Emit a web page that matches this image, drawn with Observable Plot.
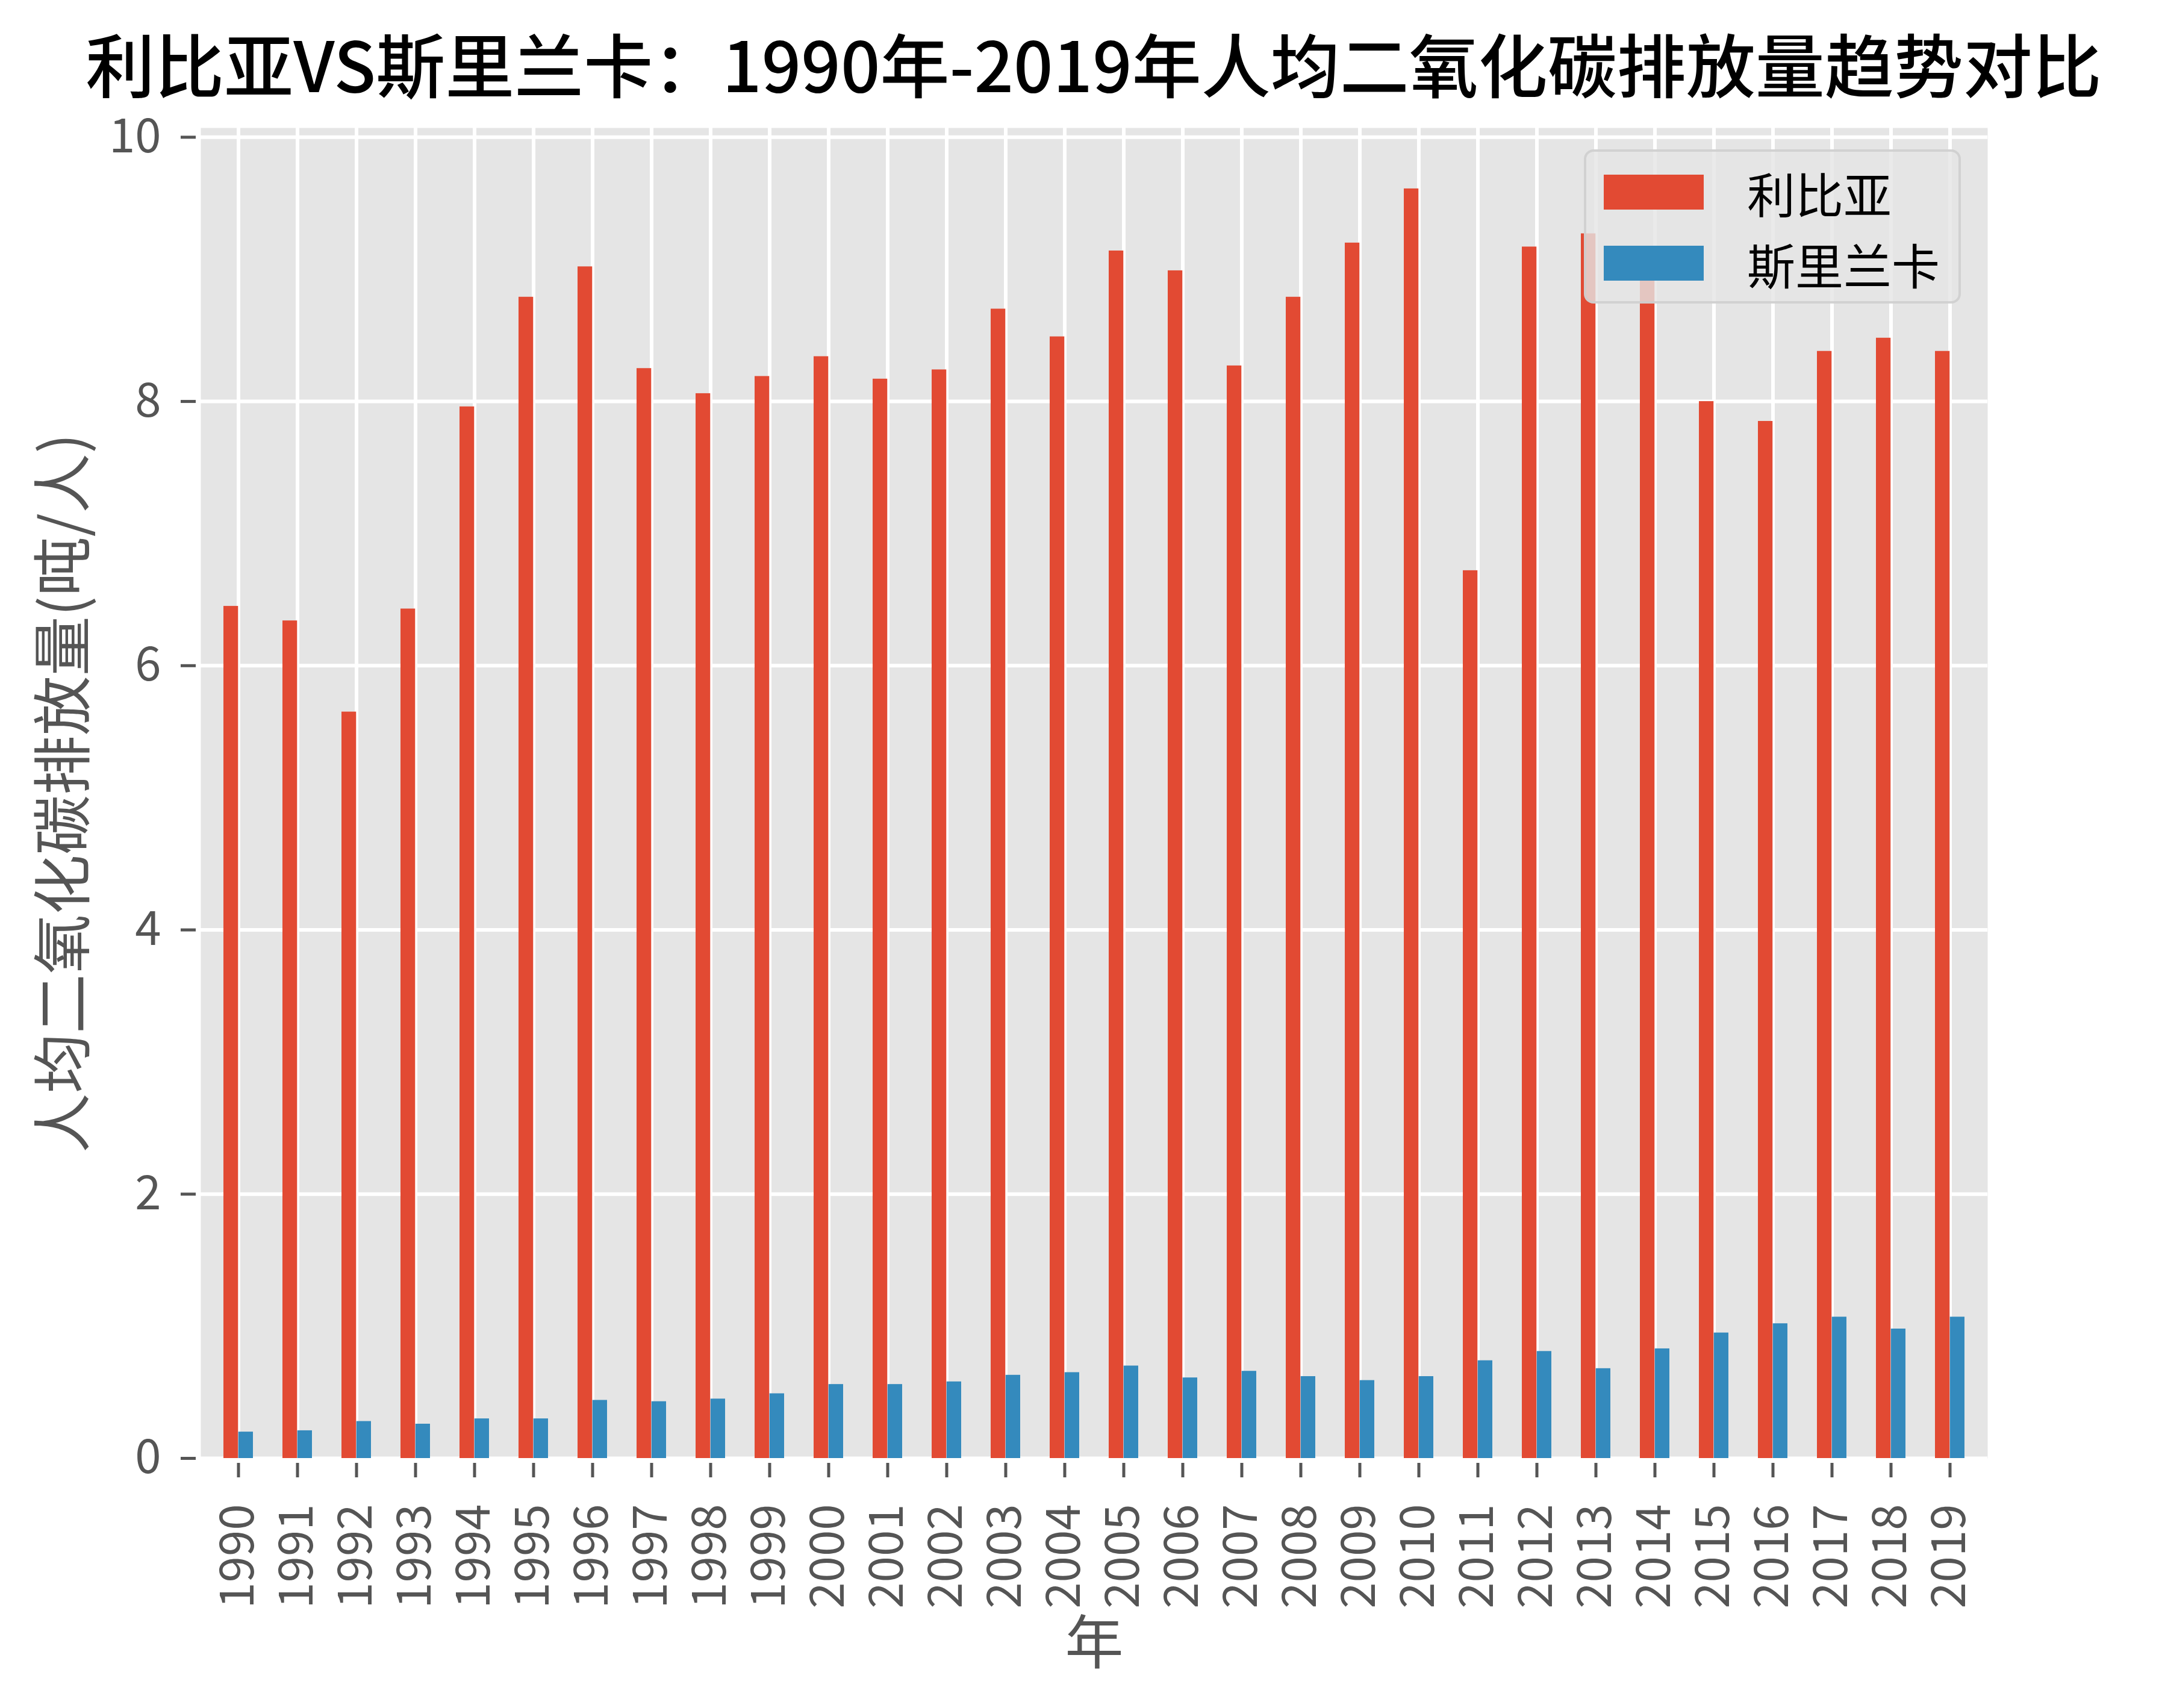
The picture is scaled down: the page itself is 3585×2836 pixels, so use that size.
<!DOCTYPE html>
<html>
<head>
<meta charset="utf-8">
<script src="https://cdn.jsdelivr.net/npm/d3@7"></script>
<script src="https://cdn.jsdelivr.net/npm/@observablehq/plot@0.6"></script>
<style>
  html, body { margin: 0; padding: 0; background: #ffffff; }
  body { font-family: "Noto Sans CJK SC", sans-serif; }
  #wrap { position: relative; width: 3585px; height: 2836px; overflow: hidden; }
  #title { position: absolute; left: 1816px; top: 104px; transform: translate(-50%, -50%);
           font-size: 115px; font-weight: 500; color: #000; white-space: nowrap; line-height: 0.85; }
  #chart { position: absolute; left: 0; top: 150px; }
  #legend { position: absolute; left: 2630px; top: 248px; width: 626px; height: 256px; box-sizing: border-box;
            background: rgba(229,229,229,0.8); border: 4px solid rgba(204,204,204,0.8); border-radius: 16px; }
  .sw { position: absolute; left: 29px; width: 166px; height: 58px; }
  .lab { position: absolute; left: 267px; font-size: 80px; color: #000; line-height: 1; white-space: nowrap; }
</style>
</head>
<body>
<div id="wrap">
  <div id="chart"></div>
  <div id="title"></div>
  <div id="legend"></div>
</div>
<script>
// ---- data ----
const years = ["1990","1991","1992","1993","1994","1995","1996","1997","1998","1999",
               "2000","2001","2002","2003","2004","2005","2006","2007","2008","2009",
               "2010","2011","2012","2013","2014","2015","2016","2017","2018","2019"];
const libya = [6.45, 6.34, 5.65, 6.43, 7.96, 8.79, 9.02, 8.25, 8.06, 8.19,
               8.34, 8.17, 8.24, 8.70, 8.49, 9.14, 8.99, 8.27, 8.79, 9.20,
               9.61, 6.72, 9.17, 9.27, 8.93, 8.00, 7.85, 8.38, 8.48, 8.38];
const sriLanka = [0.20, 0.21, 0.28, 0.26, 0.30, 0.30, 0.44, 0.43, 0.45, 0.49,
                  0.56, 0.56, 0.58, 0.63, 0.65, 0.70, 0.61, 0.66, 0.62, 0.59,
                  0.62, 0.74, 0.81, 0.68, 0.83, 0.95, 1.02, 1.07, 0.98, 1.07];
const seriesNames = ["利比亚", "斯里兰卡"];
const seriesColors = ["#E24A33", "#348ABD"];
const yTicks = [0, 2, 4, 6, 8, 10];
const titleText = "利比亚VS斯里兰卡：1990年-2019年人均二氧化碳排放量趋势对比";
const xLabel = "年";
const yLabel = "人均二氧化碳排放量(吨/人)";

// ---- table ----
const rows = years.map((y, i) => ({year: y, libya: libya[i], sriLanka: sriLanka[i]}));

// ---- layout ----
const W = 3585, H = 2686;
const mL = 333, mR = 285, mT = 62, mB = 415;
const step = (W - mL - mR) / years.length;
const bw = step * 0.5;
const half = bw / 2;
const font = "Noto Sans CJK SC";

document.getElementById("title").textContent = titleText;

const chart = Plot.plot({
  width: W,
  height: H,
  marginLeft: mL,
  marginRight: mR,
  marginTop: mT,
  marginBottom: mB,
  style: {fontFamily: font, background: "transparent", overflow: "visible"},
  x: {type: "band", domain: years, paddingInner: 0.5, paddingOuter: 0.25},
  y: {domain: [0, 10.07]},
  marks: [
    Plot.frame({fill: "#E5E5E5", stroke: "none"}),
    Plot.gridY(yTicks, {stroke: "#ffffff", strokeOpacity: 1, strokeWidth: 6}),
    Plot.gridX(years, {stroke: "#ffffff", strokeOpacity: 1, strokeWidth: 6}),
    Plot.barY(rows, {x: "year", y: "libya", fill: seriesColors[0], insetLeft: 0, insetRight: half}),
    Plot.barY(rows, {x: "year", y: "sriLanka", fill: seriesColors[1], insetLeft: half, insetRight: 0}),
    Plot.axisY(yTicks, {tickSize: 25, tickPadding: 33, dx: -8, stroke: "#555555", strokeWidth: 5,
                        fill: "#555555", fontSize: 78, label: null, tickFormat: d => String(d)}),
    Plot.axisX(years, {tickSize: 24, tickPadding: 44, dy: 8, tickRotate: -90, stroke: "#555555",
                       strokeWidth: 5, fill: "#555555", fontSize: 78, label: null}),
    Plot.text([yLabel], {text: d => d, frameAnchor: "left", dx: -225, rotate: -90,
                         textAnchor: "middle", lineAnchor: "middle", fontSize: 99, fill: "#555555"}),
    Plot.text([xLabel], {text: d => d, frameAnchor: "bottom", dy: 309,
                         textAnchor: "middle", lineAnchor: "middle", fontSize: 97, fill: "#555555"})
  ]
});
document.getElementById("chart").appendChild(chart);

// ---- legend ----
const legend = document.getElementById("legend");
seriesNames.forEach((name, i) => {
  const sw = document.createElement("div");
  sw.className = "sw";
  sw.style.top = (38 + i * 118) + "px";
  sw.style.background = seriesColors[i];
  legend.appendChild(sw);
  const lab = document.createElement("div");
  lab.className = "lab";
  lab.style.top = (67 + i * 118 - 40) + "px";
  lab.textContent = name;
  legend.appendChild(lab);
});
</script>
</body>
</html>
